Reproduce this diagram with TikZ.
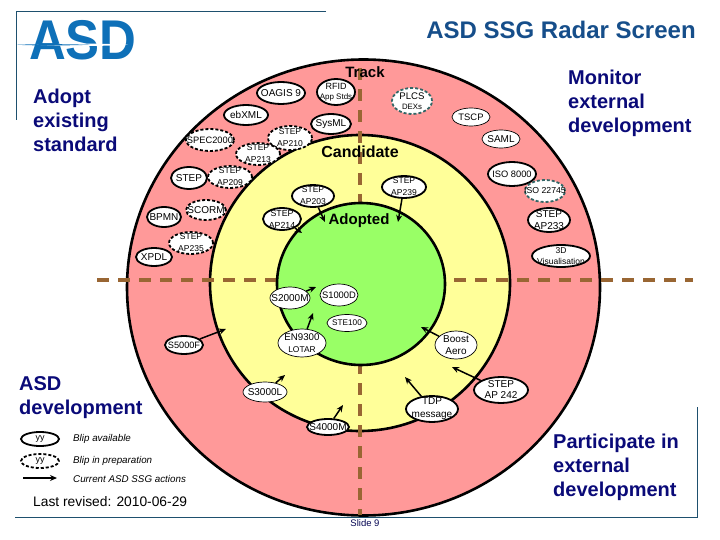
\documentclass[tikz,border=0pt]{standalone}
\usepackage{fontspec}
\setmainfont{Liberation Sans}
\usetikzlibrary{shapes.geometric, arrows.meta}
\definecolor{logoblue}{RGB}{14,112,184}
\definecolor{titleblue}{RGB}{22,78,138}
\definecolor{headnavy}{RGB}{10,10,120}
\definecolor{framecol}{RGB}{30,80,110}
\definecolor{ringred}{RGB}{255,153,153}
\definecolor{ringyellow}{RGB}{255,255,153}
\definecolor{ringgreen}{RGB}{153,255,102}
\definecolor{axisbrown}{RGB}{153,102,51}
\definecolor{blipteal}{RGB}{51,102,102}
\tikzset{
  ring/.style={draw=black, line width=2.6pt},
  axis/.style={color=axisbrown, line width=4pt, dash pattern=on 12pt off 9pt},
  head/.style={font=\fontsize{20}{24}\selectfont\bfseries, color=headnavy, align=left, anchor=north west, inner sep=0pt},
  zone/.style={font=\fontsize{15}{16}\selectfont\bfseries, inner sep=0pt},
  blip/.style={ellipse, draw=black, fill=white, inner xsep=-14pt, inner ysep=-10pt, align=center, font=\fontsize{10}{12}\selectfont, line width=1.8pt},
  thin blip/.style={blip, line width=.7pt},
  plan blip/.style={blip, dash pattern=on 3pt off 2pt},
  watch blip/.style={blip, draw=blipteal, dash pattern=on 3pt off 2pt},
  small/.style={font=\fontsize{8.5}{12}\selectfont},
  wh/.style 2 args={minimum width=#1pt, minimum height=#2pt},
  act/.style={-{Stealth[length=7pt,width=6pt]}, line width=1.5pt},
  note/.style={font=\fontsize{9.8}{11}\selectfont\itshape, anchor=west, inner sep=0pt},
  frame/.style={color=framecol, line width=.7pt}
}
\begin{document}
\begin{tikzpicture}
\useasboundingbox (0pt,0pt) rectangle (720pt,-540pt);
% frame
\draw[frame] (326pt,-11pt) -- (16pt,-11pt) -- (16pt,-120pt);
\draw[frame] (15pt,-517pt) -- (697pt,-517pt) -- (697pt,-407pt);
% logo
\node (logo) [inner sep=0pt, color=logoblue, font=\fontsize{56}{56}\selectfont\bfseries] at (83pt,-40pt) {\scalebox{.91}[1]{ASD}};
\fill[white] (36pt,-44.8pt) .. controls (80pt,-42.8pt) and (110pt,-43.8pt) .. (128pt,-44.8pt) .. controls (110pt,-45.8pt) and (80pt,-46.8pt) .. (36pt,-44.8pt);
\fill[logoblue] (17pt,-44.8pt) .. controls (40pt,-43.8pt) and (70pt,-44.2pt) .. (90pt,-44.8pt) .. controls (70pt,-45.4pt) and (40pt,-45.8pt) .. (17pt,-44.8pt);
% rings
\draw[ring, fill=ringred] (363.5pt,-287.5pt) ellipse (236.5pt and 228pt);
\draw[ring, fill=ringyellow] (360pt,-283pt) ellipse (150pt and 148pt);
\draw[axis] (97pt,-280pt) -- (693pt,-280pt);
\draw[axis] (360pt,-68pt) -- (360pt,-515pt);
\draw[ring, fill=ringgreen] (361pt,-284pt) ellipse (84pt and 81pt);
% titles
\node (title) [inner sep=0pt, color=titleblue, font=\fontsize{24}{26}\selectfont\bfseries] at (561pt,-29.5pt) {ASD SSG Radar Screen};
\node (adopt) [head] at (33pt,-89pt) {Adopt\\existing\\standard};
\node (monitor) [head] at (568pt,-70pt) {Monitor\\external\\development};
\node (asddev) [head] at (19pt,-376pt) {ASD\\development};
\node (participate) [head] at (553pt,-434pt) {Participate in\\external\\development};
\node (track) [zone] at (365pt,-72pt) {Track};
\node (candidate) [zone, font=\fontsize{16}{18}\selectfont\bfseries] at (360pt,-152pt) {Candidate};
\node (adopted) [zone] at (359pt,-221pt) {Adopted};
% track ring
\node (oagis) [blip, wh={48}{22}] at (281pt,-93pt) {OAGIS 9};
\node (rfid) [blip, wh={38}{26}, font=\fontsize{9}{10.5}\selectfont] at (336pt,-92pt) {RFID\\{\fontsize{8}{10.5}\selectfont App Stds}};
\node (ebxml) [blip, wh={44}{20}] at (246pt,-115pt) {ebXML};
\node (sysml) [blip, wh={40}{20}] at (331pt,-124pt) {SysML};
\node (ap210) [plan blip, small, wh={44}{24}] at (290pt,-138pt) {STEP\\AP210};
\node (ap213) [plan blip, small, wh={44}{22}] at (258pt,-154pt) {STEP\\AP213};
\node (spec) [plan blip, wh={48}{22}, font=\fontsize{9.3}{11}\selectfont] at (210pt,-140pt) {SPEC2000};
\node (step) [blip, wh={36}{22}] at (189pt,-178pt) {STEP};
\node (ap209) [plan blip, small, wh={44}{22}] at (230pt,-177pt) {STEP\\AP209};
\node (bpmn) [blip, wh={34}{20}] at (164pt,-217pt) {BPMN};
\node (scorm) [plan blip, wh={40}{20}] at (206pt,-210pt) {SCORM};
\node (ap235) [plan blip, small, wh={44}{22}] at (191pt,-243pt) {STEP\\AP235};
\node (xpdl) [blip, wh={36}{18}] at (154pt,-257pt) {XPDL};
\node (plcs) [watch blip, wh={40}{26}, font=\fontsize{9.6}{10.5}\selectfont] at (412pt,-101pt) {PLCS\\{\fontsize{7.8}{10.5}\selectfont DEXs}};
\node (tscp) [thin blip, wh={38}{18}, font=\fontsize{9.4}{11}\selectfont] at (471pt,-117pt) {TSCP};
\node (saml) [thin blip, wh={38}{18}] at (501pt,-139pt) {SAML};
\node (iso8000) [blip, wh={48}{24}, font=\fontsize{9.3}{11}\selectfont] at (512pt,-174pt) {ISO 8000};
\node (iso22745) [watch blip, wh={40}{22}, font=\fontsize{8.7}{11}\selectfont] at (545pt,-191pt) {ISO 22745};
\node (ap233) [blip, wh={42}{24}] at (549pt,-220pt) {STEP\\AP233};
\node (visual) [blip, wh={58}{22}, font=\fontsize{8.5}{11}\selectfont] at (561pt,-256pt) {3D\\Visualisation};
% candidate ring
\node (ap203) [blip, small, wh={42}{22}] at (313pt,-196pt) {STEP\\AP203};
\node (ap214) [blip, wh={38}{22}, font=\fontsize{8.8}{12}\selectfont] at (282pt,-219pt) {STEP\\AP214};
\node (ap239) [blip, small, wh={44}{22}] at (404pt,-187pt) {STEP\\AP239};
% adopted
\node (s2000m) [thin blip, wh={40}{22}] at (290pt,-298pt) {S2000M};
\node (s1000d) [thin blip, wh={38}{22}, font=\fontsize{9.4}{11}\selectfont] at (339pt,-295pt) {S1000D};
\node (ste100) [thin blip, wh={40}{17}, font=\fontsize{8.2}{9}\selectfont] at (347pt,-323pt) {STE100};
\node (en9300) [thin blip, wh={48}{28}, font=\fontsize{9.7}{11.5}\selectfont] at (302pt,-343pt) {EN9300\\{\fontsize{8.4}{11.5}\selectfont LOTAR}};
\node (boost) [thin blip, wh={42}{28}] at (456pt,-345pt) {Boost\\Aero};
\node (s5000f) [blip, wh={38}{18}, font=\fontsize{9.2}{11}\selectfont] at (184pt,-345pt) {S5000F};
\node (s3000l) [thin blip, wh={44}{20}] at (265pt,-392pt) {S3000L};
\node (s4000m) [blip, wh={42}{16}] at (328pt,-427pt) {S4000M};
\node (tdp) [blip, wh={52}{26}, font=\fontsize{10}{13}\selectfont] at (432pt,-409pt) {TDP\\message};
\node (ap242) [blip, wh={54}{26}, font=\fontsize{10}{11}\selectfont] at (501pt,-390pt) {STEP\\AP 242};
% arrow ends
\coordinate (to203) at (325pt,-222pt);
\coordinate (to214) at (302pt,-233pt);
\coordinate (to239) at (398pt,-222pt);
\coordinate (to2000) at (316pt,-287pt);
\coordinate (to9300) at (313pt,-313pt);
\coordinate (toboost) at (421pt,-327pt);
\coordinate (to5000) at (226pt,-329pt);
\coordinate (to3000) at (285pt,-375pt);
\coordinate (to4000) at (343pt,-405pt);
\coordinate (totdp) at (405pt,-377pt);
\coordinate (to242) at (452pt,-367pt);
\draw[act] (ap203) -- (to203);
\draw[act] (ap214) -- (to214);
\draw[act] (ap239) -- (to239);
\draw[act] (s2000m) -- (to2000);
\draw[act] (en9300) -- (to9300);
\draw[act] (boost) -- (toboost);
\draw[act] (s5000f) -- (to5000);
\draw[act] (s3000l) -- (to3000);
\draw[act] (s4000m) -- (to4000);
\draw[act] (tdp) -- (totdp);
\draw[act] (ap242) -- (to242);
% legend
\node (keysolid) [blip, wh={38}{14}, font=\fontsize{9}{10}\selectfont] at (40pt,-439pt) {yy};
\node (keyplan) [plan blip, wh={38}{14}, font=\fontsize{9}{10}\selectfont] at (40pt,-461pt) {yy};
\coordinate (keyfrom) at (23pt,-478pt);
\coordinate (keyto) at (57pt,-478pt);
\draw[act] (keyfrom) -- (keyto);
\node (noteone) [note] at (73pt,-438.5pt) {Blip available};
\node (notetwo) [note] at (73pt,-460.5pt) {Blip in preparation};
\node (notethree) [note] at (73pt,-478.5pt) {Current ASD SSG actions};
\node (revised) [inner sep=0pt, anchor=west, font=\fontsize{13.8}{16}\selectfont] at (33pt,-502pt) {Last revised: 2010-06-29};
\node (slide) [inner sep=0pt, color=headnavy!70!black, font=\fontsize{9.5}{11}\selectfont] at (365pt,-523.5pt) {Slide 9};
\end{tikzpicture}
\end{document}
